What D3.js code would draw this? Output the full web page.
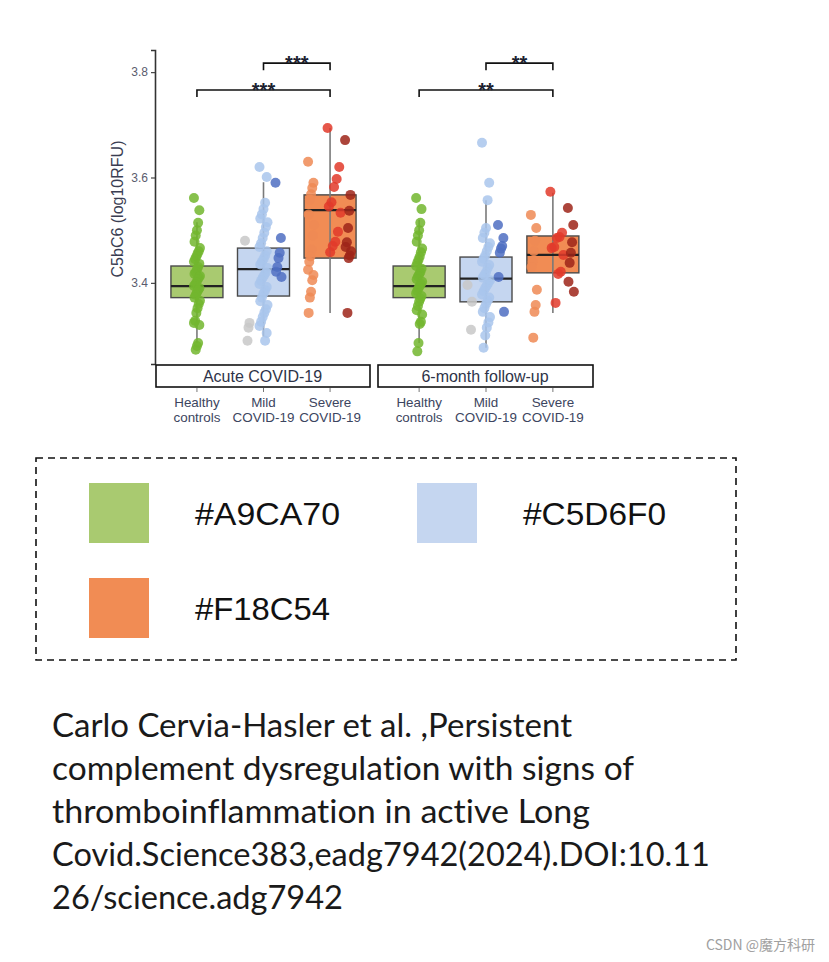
<!DOCTYPE html>
<html><head><meta charset="utf-8">
<script src="https://cdn.jsdelivr.net/npm/d3@7"></script>
<style>body{margin:0;background:#fff} text{font-variant-ligatures:none;font-feature-settings:"liga" 0}</style>
</head><body><svg id="c" width="829" height="962"></svg>
<script>
// ---------------- DATA ----------------
const panels = ["Acute COVID-19", "6-month follow-up"];
const groups = ["Healthy controls", "Mild COVID-19", "Severe COVID-19"];
const groupLabels = [["Healthy", "controls"], ["Mild", "COVID-19"], ["Severe", "COVID-19"]];
const yTicks = [3.4, 3.6, 3.8];
const yTitle = "C5bC6 (log10RFU)";

// box statistics: [lower whisker, Q1, median, Q3, upper whisker]
const acuteBoxes = [
  [3.286, 3.372, 3.394, 3.432, 3.515],
  [3.298, 3.375, 3.426, 3.466, 3.591],
  [3.343, 3.447, 3.538, 3.567, 3.694]
];
const followBoxes = [
  [3.286, 3.372, 3.394, 3.432, 3.52],
  [3.277, 3.364, 3.408, 3.449, 3.557],
  [3.343, 3.419, 3.453, 3.489, 3.571]
];

// individual observations
const acuteHealthy = [3.561, 3.538, 3.514, 3.50, 3.49, 3.478, 3.466, 3.46, 3.455, 3.45, 3.445, 3.44, 3.436, 3.43, 3.426, 3.42, 3.417, 3.413, 3.41, 3.406, 3.40, 3.397, 3.394, 3.39, 3.386, 3.382, 3.377, 3.372, 3.366, 3.36, 3.352, 3.343, 3.328, 3.324, 3.32, 3.286, 3.28, 3.273];
const acuteMildLight = [3.62, 3.601, 3.552, 3.54, 3.53, 3.522, 3.515, 3.506, 3.495, 3.485, 3.475, 3.468, 3.46, 3.452, 3.445, 3.44, 3.435, 3.428, 3.42, 3.415, 3.41, 3.404, 3.398, 3.392, 3.386, 3.38, 3.372, 3.365, 3.358, 3.35, 3.343, 3.335, 3.326, 3.318, 3.305, 3.29];
const acuteMildDark = [3.59, 3.485, 3.457, 3.447, 3.43, 3.421, 3.411];
const acuteMildGray = [3.48, 3.324, 3.315, 3.29];
const acuteSevLight = [3.63, 3.59, 3.58, 3.568, 3.558, 3.53, 3.51, 3.49, 3.463, 3.45, 3.44, 3.425, 3.415, 3.405, 3.383, 3.372, 3.343];
const acuteSevRed = [3.694, 3.62, 3.597, 3.582, 3.553, 3.545, 3.533, 3.497, 3.478, 3.47, 3.458];
const acuteSevDark = [3.671, 3.567, 3.537, 3.504, 3.477, 3.468, 3.46, 3.452, 3.447, 3.343];

const followHealthy = [3.561, 3.54, 3.514, 3.50, 3.49, 3.478, 3.465, 3.458, 3.45, 3.444, 3.438, 3.432, 3.427, 3.42, 3.416, 3.412, 3.407, 3.402, 3.398, 3.394, 3.39, 3.385, 3.38, 3.375, 3.37, 3.364, 3.356, 3.348, 3.34, 3.326, 3.322, 3.286, 3.27];
const followMildLight = [3.666, 3.59, 3.557, 3.504, 3.495, 3.485, 3.475, 3.468, 3.46, 3.452, 3.446, 3.44, 3.434, 3.428, 3.42, 3.415, 3.41, 3.405, 3.40, 3.395, 3.39, 3.384, 3.378, 3.372, 3.366, 3.36, 3.352, 3.345, 3.335, 3.325, 3.315, 3.30, 3.277];
const followMildDark = [3.51, 3.485, 3.47, 3.465, 3.457, 3.411, 3.345];
const followMildGray = [3.396, 3.364, 3.311];
const followSevLight = [3.529, 3.504, 3.48, 3.46, 3.44, 3.43, 3.387, 3.358, 3.345, 3.296];
const followSevRed = [3.573, 3.495, 3.487, 3.485, 3.468, 3.466, 3.453, 3.421, 3.417, 3.362];
const followSevDark = [3.542, 3.51, 3.477, 3.457, 3.438, 3.402, 3.383];

// significance comparisons
const comparisons = [
  {panel: 0, from: 0, to: 2, value: 3.766, label: "***"},
  {panel: 0, from: 1, to: 2, value: 3.817, label: "***"},
  {panel: 1, from: 0, to: 2, value: 3.766, label: "**"},
  {panel: 1, from: 1, to: 2, value: 3.817, label: "**"}
];

const legendColors = ["#A9CA70", "#C5D6F0", "#F18C54"];
const citationLines = [
  "Carlo Cervia-Hasler et al. ,Persistent",
  "complement dysregulation with signs of",
  "thromboinflammation in active Long",
  "Covid.Science383,eadg7942(2024).DOI:10.11",
  "26/science.adg7942"
];
const watermark = "CSDN @魔方科研";

// ---------------- BUILD ----------------
const boxes = [acuteBoxes, followBoxes];
const pointSets = [
  [[["healthy", acuteHealthy]], [["mildGray", acuteMildGray], ["mildLight", acuteMildLight], ["mildDark", acuteMildDark]], [["sevLight", acuteSevLight], ["sevRed", acuteSevRed], ["sevDark", acuteSevDark]]],
  [[["healthy", followHealthy]], [["mildGray", followMildGray], ["mildLight", followMildLight], ["mildDark", followMildDark]], [["sevLight", followSevLight], ["sevRed", followSevRed], ["sevDark", followSevDark]]]
];
const subColor = {healthy: "#72b62e", mildGray: "#c8c8c8", mildLight: "#a9c6ec", mildDark: "#4f6ec2",
  sevLight: "#ee8a55", sevRed: "#e2392a", sevDark: "#9e2419"};
const subOffset = {healthy: 0, mildGray: -16, mildLight: 0, mildDark: 15, sevLight: -19, sevRed: 4, sevDark: 18};
const subJitter = {healthy: 0.6, mildGray: 0.5, mildLight: 0.8, mildDark: 0.6, sevLight: 0.6, sevRed: 1.3, sevDark: 0.6};

const svg = d3.select("#c");
svg.append("rect").attr("width", 829).attr("height", 962).attr("fill", "#fff");
const FONT = "'Liberation Sans', Arimo, Arial, sans-serif";

const y = d3.scaleLinear().domain([3.246, 3.842]).range([364, 50]);
const panelRange = [[155, 370], [377, 593]];
const xs = panelRange.map(r => d3.scalePoint().domain(groups).range([r[0] + 2, r[1]]).padding(0.6));
const boxW = 52;

// y axis
const yAxis = svg.append("g").attr("transform", "translate(155,0)")
  .call(d3.axisLeft(y).tickValues(yTicks).tickFormat(d3.format(".1f")).tickSizeOuter(0).tickSize(4).tickPadding(3));
yAxis.select(".domain").attr("stroke", "#333").attr("stroke-width", 1.6);
yAxis.selectAll(".tick line").attr("stroke", "#444").attr("stroke-width", 1.2);
yAxis.selectAll(".tick text").attr("font-family", FONT).attr("font-size", 12).attr("fill", "#5a5c6e");

svg.append("text").attr("transform", "translate(123,209) rotate(-90)")
  .attr("text-anchor", "middle").attr("font-family", FONT).attr("font-size", 16)
  .attr("fill", "#3a3d52").text(yTitle);

panels.forEach((p, pi) => {
  const x = xs[pi];
  const [r0, r1] = panelRange[pi];
  // strip
  svg.append("rect").attr("x", r0 + 1).attr("y", 365).attr("width", r1 - r0 - 1).attr("height", 22)
    .attr("fill", "#fff").attr("stroke", "#111").attr("stroke-width", 1.6);
  svg.append("text").attr("x", (r0 + r1) / 2).attr("y", 382).attr("text-anchor", "middle")
    .attr("font-family", FONT).attr("font-size", 16).attr("fill", "#2e3348").text(p);
  // x ticks and labels
  groups.forEach((g, gi) => {
    const cx = x(g);
    svg.append("line").attr("x1", cx).attr("x2", cx).attr("y1", 388).attr("y2", 392)
      .attr("stroke", "#777").attr("stroke-width", 1);
    groupLabels[gi].forEach((ln, li) => {
      svg.append("text").attr("x", cx).attr("y", 407 + li * 15).attr("text-anchor", "middle")
        .attr("font-family", FONT).attr("font-size", 13.4).attr("fill", "#3c4560").text(ln);
    });
  });
  // boxes
  boxes[pi].forEach((b, gi) => {
    const cx = x(groups[gi]);
    const [lo, q1, med, q3, hi] = b;
    svg.append("rect").attr("x", cx - boxW / 2).attr("y", y(q3)).attr("width", boxW).attr("height", y(q1) - y(q3))
      .attr("fill", legendColors[gi]).attr("stroke", "#4a4a4a").attr("stroke-width", 1.4);
    svg.append("line").attr("x1", cx).attr("x2", cx).attr("y1", y(lo)).attr("y2", y(hi))
      .attr("stroke", "#7a7a7a").attr("stroke-width", 1.6);
    svg.append("line").attr("x1", cx - boxW / 2).attr("x2", cx + boxW / 2).attr("y1", y(med)).attr("y2", y(med))
      .attr("stroke", "#222").attr("stroke-width", 2.2);
  });
  // points
  pointSets[pi].forEach((subs, gi) => {
    const cx = x(groups[gi]);
    subs.forEach(([sub, vals]) => {
      svg.append("g").selectAll("circle").data(vals).join("circle")
        .attr("cx", (d, i) => cx + subOffset[sub] + ((((i * 53) % 11) - 5) * subJitter[sub]))
        .attr("cy", d => y(d)).attr("r", 5)
        .attr("fill", subColor[sub]).attr("fill-opacity", 0.85);
    });
  });
});

// significance brackets
comparisons.forEach(c => {
  const x = xs[c.panel];
  const x1 = x(groups[c.from]), x2 = x(groups[c.to]), yy = y(c.value);
  svg.append("path").attr("d", `M${x1},${yy + 7}V${yy}H${x2}V${yy + 7}`)
    .attr("fill", "none").attr("stroke", "#111").attr("stroke-width", 1.6);
  svg.append("text").attr("x", (x1 + x2) / 2).attr("y", yy + 7).attr("text-anchor", "middle")
    .attr("font-family", FONT).attr("font-size", 20).attr("font-weight", "bold").attr("fill", "#1c1f30").text(c.label);
});

// legend
svg.append("rect").attr("x", 36).attr("y", 458).attr("width", 700).attr("height", 202)
  .attr("fill", "none").attr("stroke", "#111").attr("stroke-width", 1.6).attr("stroke-dasharray", "7,5");
const legPos = [[89, 483], [417, 483], [89, 578]];
const legLen = [145, 143, 135];
legendColors.forEach((c, i) => {
  const [lx, ly] = legPos[i];
  svg.append("rect").attr("x", lx).attr("y", ly).attr("width", 60).attr("height", 60).attr("fill", c);
  svg.append("text").attr("x", lx + 106).attr("y", ly + 42).attr("font-family", FONT).attr("font-size", 31)
    .attr("fill", "#111").attr("textLength", legLen[i]).attr("lengthAdjust", "spacingAndGlyphs").text(c);
});

// citation
const citLen = [520, 582, 538, 658, 291];
citationLines.forEach((t, i) => {
  svg.append("text").attr("x", 52).attr("y", 737 + i * 43).attr("font-family", "Lato, 'Open Sans', sans-serif")
    .attr("font-size", 32).attr("fill", "#1a1a1a").attr("textLength", citLen[i])
    .attr("lengthAdjust", "spacingAndGlyphs").text(t);
});
svg.append("text").attr("x", 815).attr("y", 950).attr("text-anchor", "end")
  .attr("font-family", "'Noto Sans CJK SC', sans-serif").attr("font-size", 14).attr("fill", "#a0a0a0").text(watermark);
</script></body></html>
